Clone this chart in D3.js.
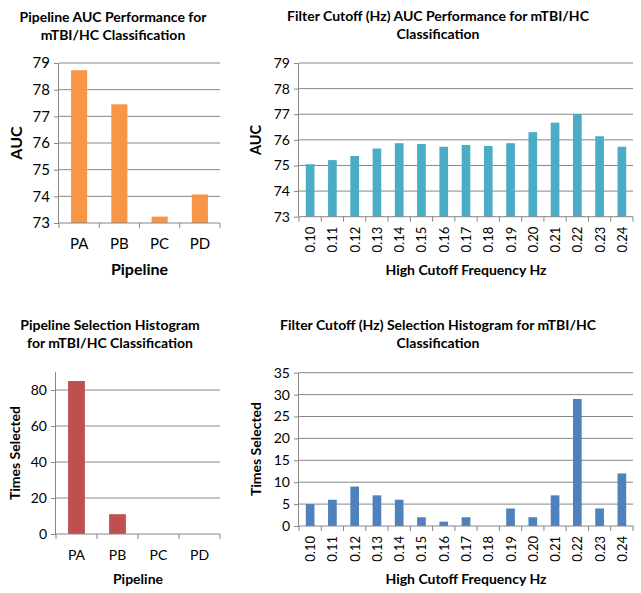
<!DOCTYPE html>
<html><head><meta charset="utf-8">
<script src="https://cdn.jsdelivr.net/npm/d3@7"></script>
<style>body{margin:0;background:#fff}svg{display:block}text{font-family:Lato,"Open Sans",sans-serif;fill:#000}</style>
</head><body>
<svg id="c" width="641" height="593"></svg>
<script>
const pipelines = ["PA","PB","PC","PD"];
const pipelineAUC = [78.73, 77.45, 73.24, 74.07];
const pipelineSelected = [85, 11, 0, 0];
const cutoffs = ["0.10","0.11","0.12","0.13","0.14","0.15","0.16","0.17","0.18","0.19","0.20","0.21","0.22","0.23","0.24"];
const cutoffAUC = [75.05, 75.21, 75.37, 75.66, 75.87, 75.84, 75.73, 75.80, 75.76, 75.87, 76.30, 76.67, 77.01, 76.14, 75.73];
const cutoffSelected = [5, 6, 9, 7, 6, 2, 1, 2, 0, 4, 2, 7, 29, 4, 12];
const aucTicks = [73,74,75,76,77,78,79];
const selPipeTicks = [0,20,40,60,80];
const selCutTicks = [0,5,10,15,20,25,30,35];

const svg = d3.select("#c");

function panel(o){
  const g = svg.append("g");
  const x = d3.scaleBand().domain(o.cats).range([o.x0, o.x1]).paddingInner(o.pad).paddingOuter(o.pad/2);
  const xb = d3.scaleBand().domain(o.cats).range([o.x0, o.x1]);
  const y = d3.scaleLinear().domain(o.domain).range([o.y0, o.y1]);
  g.selectAll(".grid").data(o.ticks.filter(t => t !== o.domain[0])).join("line")
    .attr("x1", o.x0).attr("x2", o.x1)
    .attr("y1", d => y(d)).attr("y2", d => y(d))
    .attr("stroke", "#868686").attr("stroke-width", 1);
  g.selectAll(".bar").data(o.vals).join("rect")
    .attr("x", (d,i) => x(o.cats[i]))
    .attr("width", x.bandwidth())
    .attr("y", d => y(d))
    .attr("height", d => Math.max(0, y(o.domain[0]) - y(d)))
    .attr("fill", o.color);
  const ya = d3.axisLeft(y).tickValues(o.ticks).tickSize(5).tickPadding(4).tickFormat(d3.format("d"));
  const yg = g.append("g").attr("transform", `translate(${o.x0},0)`).call(ya);
  yg.select(".domain").attr("stroke", "#868686").attr("d", `M-0.5,${o.y0}V${o.y1}`);
  yg.selectAll(".tick line").attr("stroke", "#868686");
  yg.selectAll(".tick text").style("font-size", o.yfs + "px").style("font-family", "Lato, 'Open Sans', sans-serif").attr("fill", "#000");
  g.append("line").attr("x1", o.x0).attr("x2", o.x1).attr("y1", o.y0).attr("y2", o.y0).attr("stroke", "#868686");
  const bounds = o.cats.map(c => xb(c)).concat([o.x1]);
  g.selectAll(".xt").data(bounds).join("line")
    .attr("x1", d => d).attr("x2", d => d).attr("y1", o.y0).attr("y2", o.y0 + 5).attr("stroke", "#868686");
  if (o.rot) {
    g.selectAll(".xl").data(o.cats).join("text")
      .attr("transform", d => `translate(${xb(d) + xb.bandwidth()/2},${o.y0 + 10}) rotate(-90)`)
      .attr("text-anchor", "end").attr("dominant-baseline", "central")
      .style("font-size", o.xfs + "px").text(d => d);
  } else {
    g.selectAll(".xl").data(o.cats).join("text")
      .attr("x", d => xb(d) + xb.bandwidth()/2).attr("y", o.y0 + 20)
      .attr("text-anchor", "middle").attr("dominant-baseline", "central")
      .style("font-size", o.xfs + "px").text(d => d);
  }
  g.append("text").attr("x", (o.x0 + o.x1)/2).attr("y", o.xtY).attr("text-anchor", "middle")
    .attr("dominant-baseline", "central").style("font-size", o.xtfs + "px").style("font-weight", "bold").text(o.xt);
  g.append("text").attr("transform", `translate(${o.ytX},${o.ytY}) rotate(-90)`).attr("text-anchor", "middle")
    .attr("dominant-baseline", "central").style("font-size", o.ytfs + "px").style("font-weight", "bold").text(o.yt);
  o.title.forEach((t, i) => {
    g.append("text").attr("x", o.tX).attr("y", o.tY + i * 18).attr("text-anchor", "middle")
      .attr("dominant-baseline", "central").style("font-size", o.tfs + "px").style("font-weight", "bold").text(t);
  });
}

panel({cats: pipelines, vals: pipelineAUC, domain: [73,79], ticks: aucTicks, color: "#f79646",
  x0: 59, x1: 220, y0: 223, y1: 63, pad: 0.6, rot: false, yfs: 15, xfs: 15,
  xt: "Pipeline", xtY: 268, xtfs: 16, yt: "AUC", ytX: 15, ytY: 143, ytfs: 16,
  title: ["Pipeline AUC Performance for", "mTBI/HC Classification"], tX: 113, tY: 16, tfs: 14});

panel({cats: cutoffs, vals: cutoffAUC, domain: [73,79], ticks: aucTicks, color: "#4bacc6",
  x0: 299, x1: 633, y0: 216.7, y1: 63, pad: 0.61, rot: true, yfs: 14, xfs: 13,
  xt: "High Cutoff Frequency Hz", xtY: 269, xtfs: 14, yt: "AUC", ytX: 255, ytY: 140, ytfs: 14.5,
  title: ["Filter Cutoff (Hz) AUC Performance for mTBI/HC", "Classification"], tX: 438, tY: 15, tfs: 14});

panel({cats: pipelines, vals: pipelineSelected, domain: [0,90], ticks: selPipeTicks, color: "#c0504d",
  x0: 56, x1: 220, y0: 534, y1: 372, pad: 0.59, rot: false, yfs: 14, xfs: 14,
  xt: "Pipeline", xtY: 578, xtfs: 14, yt: "Times Selected", ytX: 14, ytY: 453, ytfs: 14,
  title: ["Pipeline Selection Histogram", "for mTBI/HC Classification"], tX: 110, tY: 324, tfs: 14});

panel({cats: cutoffs, vals: cutoffSelected, domain: [0,35], ticks: selCutTicks, color: "#4f81bd",
  x0: 299, x1: 633, y0: 526, y1: 372.7, pad: 0.61, rot: true, yfs: 14, xfs: 13,
  xt: "High Cutoff Frequency Hz", xtY: 578, xtfs: 14, yt: "Times Selected", ytX: 255, ytY: 449, ytfs: 14,
  title: ["Filter Cutoff (Hz) Selection Histogram for mTBI/HC", "Classification"], tX: 438, tY: 324, tfs: 14});
</script>
</body></html>
